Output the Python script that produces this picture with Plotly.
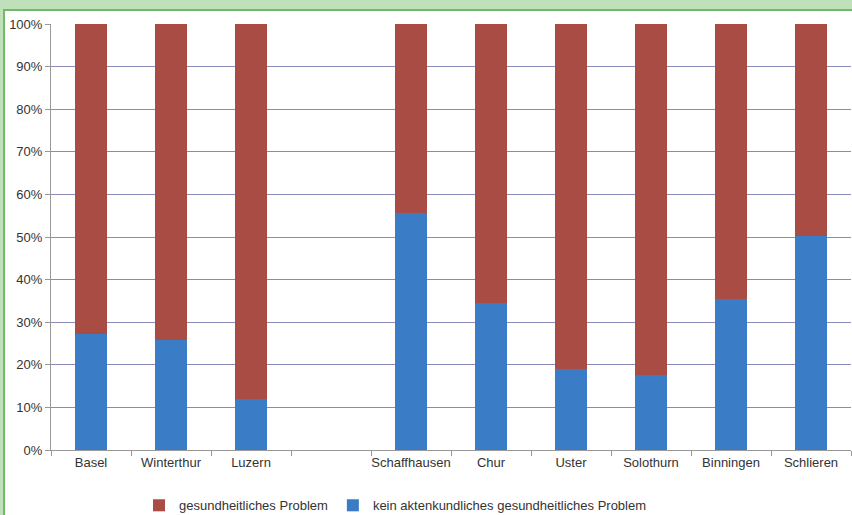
import plotly.graph_objects as go

categories = ["Basel", "Winterthur", "Luzern", " ", "Schaffhausen", "Chur",
              "Uster", "Solothurn", "Binningen", "Schlieren"]
kein_problem = [27.2, 25.9, 12.0, None, 55.6, 34.4, 19.0, 17.6, 35.4, 50.3]
problem = [72.8, 74.1, 88.0, None, 44.4, 65.6, 81.0, 82.4, 64.6, 49.7]
y_ticks = [0, 10, 20, 30, 40, 50, 60, 70, 80, 90, 100]
y_labels = [f"{v}%" for v in y_ticks]

fig = go.Figure()
fig.add_trace(go.Bar(x=categories, y=kein_problem,
                     name="kein aktenkundliches gesundheitliches Problem",
                     marker=dict(color="#3a7cc6", line=dict(width=0))))
fig.add_trace(go.Bar(x=categories, y=problem,
                     name="gesundheitliches Problem",
                     marker=dict(color="#a84c44", line=dict(width=0))))

fig.update_layout(
    width=852, height=515,
    barmode="stack", bargap=0.6,
    margin=dict(l=51, r=1, t=24, b=65, autoexpand=False),
    paper_bgcolor="#bfe0b8",
    plot_bgcolor="rgba(0,0,0,0)",
    font=dict(family="Liberation Sans, Arial", size=13, color="#333333"),
    showlegend=True,
    legend=dict(orientation="h", x=0.11, xanchor="left", y=-0.13, yanchor="middle",
                traceorder="reversed", bgcolor="rgba(0,0,0,0)",
                font=dict(size=13, color="#333333"), itemwidth=30),
    xaxis=dict(type="category", categoryorder="array", categoryarray=categories,
               tickson="boundaries", ticks="outside", ticklen=5, tickcolor="#999999",
               showline=True, linecolor="#999999", linewidth=1,
               showgrid=False, tickfont=dict(size=13, color="#333333"),
               tickangle=0, automargin=False, range=[-0.5, 9.5]),
    yaxis=dict(range=[0, 100], tickvals=y_ticks, ticktext=y_labels,
               showgrid=True, gridcolor="#8a8ab8", gridwidth=1,
               showline=True, linecolor="#999999", linewidth=1,
               ticks="outside", ticklen=5, tickcolor="#999999", automargin=False,
               tickfont=dict(size=13, color="#333333"), zeroline=False),
    shapes=[dict(type="rect", xref="paper", yref="paper",
                 x0=-0.0587, x1=1.01, y0=-0.16, y1=1.033,
                 fillcolor="#ffffff", line=dict(color="#72b86a", width=2),
                 layer="below")],
)

fig.write_html("out.html", config={"displayModeBar": False},
               post_script="document.body.style.margin='0px';")
